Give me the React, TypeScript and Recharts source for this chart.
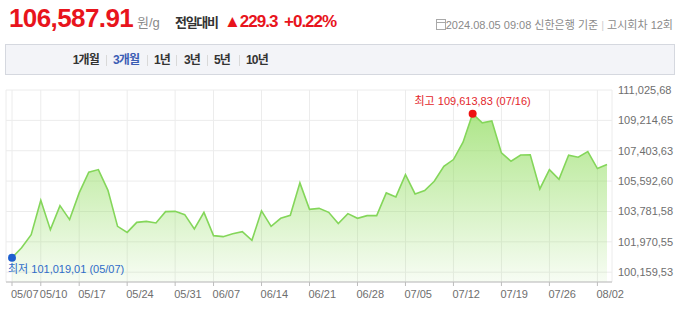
import { AreaChart, Area, XAxis, YAxis, CartesianGrid } from "recharts";

const dates = [
  "05/07", "05/08", "05/09", "05/10", "05/13", "05/14", "05/16", "05/17", "05/20", "05/21",
  "05/22", "05/23", "05/24", "05/27", "05/28", "05/29", "05/30", "05/31", "06/03", "06/04",
  "06/05", "06/07", "06/10", "06/11", "06/12", "06/13", "06/14", "06/17", "06/18", "06/19",
  "06/20", "06/21", "06/24", "06/25", "06/26", "06/27", "06/28", "07/01", "07/02", "07/03",
  "07/04", "07/05", "07/08", "07/09", "07/10", "07/11", "07/12", "07/15", "07/16", "07/17",
  "07/18", "07/19", "07/22", "07/23", "07/24", "07/25", "07/26", "07/29", "07/30", "07/31",
  "08/01", "08/02", "08/05",
];

const prices = [
  101019.01, 101621, 102398, 104446, 102696, 104129, 103294, 104888, 106118, 106279,
  105043, 102893, 102535, 103132, 103192, 103096, 103771, 103789, 103592, 102738,
  103729, 102338, 102279, 102457, 102577, 102057, 103813, 102893, 103371, 103550,
  105485, 103909, 103968, 103729, 103055, 103652, 103371, 103532, 103532, 104888,
  104649, 105980, 104828, 105025, 105580, 106476, 106876, 107909, 109613.83, 109067,
  109175, 107276, 106774, 107145, 107156, 105126, 106279, 105700, 107133, 107013,
  107354, 106339, 106587.91,
];

const xTicks = [
  "05/07", "05/10", "05/17", "05/24", "05/31", "06/07", "06/14",
  "06/21", "06/28", "07/05", "07/12", "07/19", "07/26", "08/02",
];

const yTicks = [100159.53, 101970.55, 103781.58, 105592.6, 107403.63, 109214.65, 111025.68];
const yTickLabels = ["100,159,53", "101,970,55", "103,781,58", "105,592,60", "107,403,63", "109,214,65", "111,025,68"];

const periods = ["1개월", "3개월", "1년", "3년", "5년", "10년"];
const periodX = [72.7, 113, 154, 184, 214, 246];
const sepX = [106, 147, 176, 207, 239];

const data = dates.map((d, i) => ({ d, v: prices[i] }));
const maxIdx = prices.indexOf(Math.max(...prices));
const minIdx = prices.indexOf(Math.min(...prices));

const FONT = '"Liberation Sans", Arial, "Noto Sans CJK KR", sans-serif';

function fmt(v: number) {
  const [a, b] = v.toFixed(2).split(".");
  return a.replace(/\B(?=(\d{3})+(?!\d))/g, ",") + "," + b;
}

function XTick(props: any) {
  const { x, y, payload } = props;
  return (
    <text x={x - 1} y={y + 10} textAnchor="start" fill="#6e6e6e" fontSize={11}>
      {payload.value}
    </text>
  );
}

function Marker(props: any) {
  const { cx, cy, index } = props;
  if (index === maxIdx) {
    return (
      <g key={`m-${index}`}>
        <circle cx={cx} cy={cy} r={4} fill="#ee1111" />
        <text x={cx} y={cy - 8.5} textAnchor="middle" fill="#e3262b" fontSize={11}>
          {`최고 ${fmt(prices[index])} (${dates[index]})`}
        </text>
      </g>
    );
  }
  if (index === minIdx) {
    return (
      <g key={`m-${index}`}>
        <circle cx={cx} cy={cy} r={4} fill="#1d5fd0" />
        <text x={8} y={cy + 15} textAnchor="start" fill="#2f6cc9" fontSize={11}>
          {`최저 ${fmt(prices[index])} (${dates[index]})`}
        </text>
      </g>
    );
  }
  return <g key={`m-${index}`} />;
}

export default function App() {
  return (
    <div style={{ position: "absolute", left: 0, top: 0, width: 680, height: 311, background: "#fff", fontFamily: FONT }}>
      <AreaChart
        width={680}
        height={311}
        data={data}
        margin={{ top: 90, right: 0, bottom: 0, left: 6 }}
      >
        <defs>
          <linearGradient id="goldFill" x1="0" y1="0" x2="0" y2="1">
            <stop offset="0%" stopColor="#8fdc5c" stopOpacity={0.72} />
            <stop offset="100%" stopColor="#8fdc5c" stopOpacity={0.07} />
          </linearGradient>
        </defs>
        <CartesianGrid stroke="#ececec" />
        <XAxis
          dataKey="d"
          ticks={xTicks}
          interval={0}
          height={29}
          padding={{ left: 6, right: 5 }}
          stroke="#bdbdbd"
          tickSize={4}
          tickMargin={2}
          tick={<XTick />}
        />
        <YAxis
          orientation="right"
          type="number"
          domain={[99574, 111025.68]}
          ticks={yTicks}
          width={68}
          axisLine={false}
          tickLine={false}
          tickSize={4}
          tickMargin={2}
          tick={{ fill: "#6e6e6e", fontSize: 11 }}
          tickFormatter={(v: number) => yTickLabels[yTicks.indexOf(v)] ?? String(v)}
        />
        <Area
          type="linear"
          dataKey="v"
          stroke="#84d65a"
          strokeWidth={1.6}
          fill="url(#goldFill)"
          fillOpacity={1}
          dot={Marker}
          activeDot={false}
          isAnimationActive={false}
        />
      </AreaChart>

      <svg width={680} height={80} style={{ position: "absolute", left: 0, top: 0 }} fontFamily={FONT}>
        <text x={9} y={27} fontSize={26} fontWeight="bold" fill="#e8141c" letterSpacing={-0.6}>
          106,587.91
        </text>
        <text x={137} y={27} fontSize={13} fill="#8a8a8a">
          원/g
        </text>
        <text x={175} y={26.5} fontSize={13} fontWeight="bold" fill="#333" letterSpacing={-1.3}>
          전일대비
        </text>
        <text x={224} y={27} fontSize={17} fontWeight="bold" fill="#e8141c" letterSpacing={-1}>
          ▲229.3
        </text>
        <text x={284} y={27} fontSize={17} fontWeight="bold" fill="#e8141c" letterSpacing={-1}>
          +0.22%
        </text>

        <g stroke="#a9a9a9" fill="none" strokeWidth={1}>
          <rect x={436.5} y={19.5} width={9} height={10} />
          <line x1={436.5} y1={22.5} x2={445.5} y2={22.5} />
        </g>
        <text x={673} y={28.5} fontSize={11} fill="#8a8a8a" textAnchor="end">
          2024.08.05 09:08 신한은행 기준 <tspan fill="#cfcfcf">|</tspan> 고시회차 12회
        </text>

        <rect x={5.5} y={44.5} width={669} height={30} fill="#f3f4f8" stroke="#d5d8df" />
        {periods.map((p, i) => (
          <text
            key={p}
            x={periodX[i]}
            y={64.3}
            fontSize={12}
            fontWeight="bold"
            letterSpacing={-0.8}
            fill={i === 1 ? "#3b5db4" : "#333"}
          >
            {p}
          </text>
        ))}
        {sepX.map((x) => (
          <line key={x} x1={x + 0.5} y1={55} x2={x + 0.5} y2={66} stroke="#d9d9d9" />
        ))}
      </svg>
    </div>
  );
}
